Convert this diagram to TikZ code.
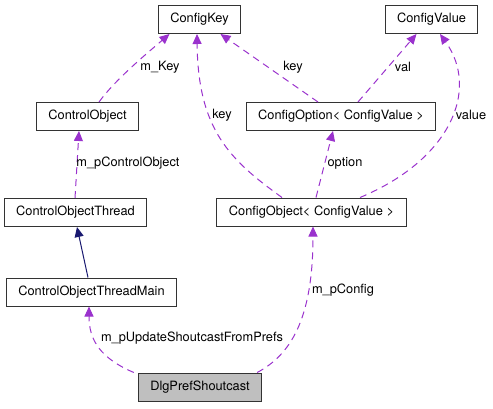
\documentclass[tikz,border=0pt]{standalone}
\usepackage{fontspec}
\setmainfont{TeX Gyre Heros}
\usetikzlibrary{arrows.meta}
\definecolor{edgepurple}{HTML}{9A32CD}
\definecolor{basenavy}{HTML}{191970}
\definecolor{dlgfill}{HTML}{BFBFBF}

\begin{document}
\begin{tikzpicture}[x=1pt,y=-1pt,
    cls/.style={draw=black!80,line width=1pt,fill=white,inner xsep=12pt,
                minimum height=28pt,font=\fontsize{12.8}{14}\selectfont},
    lbl/.style={inner sep=1pt,font=\fontsize{12.8}{14}\selectfont},
    member/.style={edgepurple,line width=1pt,dash pattern=on 7pt off 5pt,
                   -{Triangle[length=10pt,width=9pt]}},
    inherit/.style={basenavy,line width=1pt,-{Triangle[length=10pt,width=9pt]}}]
    \useasboundingbox (0,0) rectangle (493,408);

    \node[cls] (ckey)  at (199.5,19.5) {ConfigKey};
    \node[cls] (cval)  at (431.5,19.5) {ConfigValue};
    \node[cls] (cobj)  at (87.5,116.5) {ControlObject};
    \node[cls] (copt)  at (341,116.5)  {ConfigOption< ConfigValue >};
    \node[cls] (cthr)  at (75.5,212.5) {ControlObjectThread};
    \node[cls] (cfgo)  at (311.5,212)  {ConfigObject< ConfigValue >};
    \node[cls] (cmain) at (91.5,292)   {ControlObjectThreadMain};
    \node[cls,fill=dlgfill] (dlg) at (200,387) {DlgPrefShoutcast};

    % members
    \draw[member] ([xshift=11.5pt]cobj.north) .. controls (115,80) and (145,55) .. ([xshift=-30pt]ckey.south);
    \draw[member] ([xshift=-23pt]copt.north) -- ([xshift=21pt]ckey.south);
    \draw[member] ([xshift=17pt]copt.north) -- ([xshift=-15pt]cval.south);
    \draw[member] ([xshift=-29.5pt]cfgo.north) .. controls (230,160) and (198,130) .. ([xshift=-2.5pt]ckey.south);
    \draw[member] ([xshift=4.5pt]cfgo.north) -- ([xshift=-8pt]copt.south);
    \draw[member] ([xshift=48.5pt]cfgo.north) .. controls (450,160) and (480,90) .. ([xshift=8.5pt]cval.south);
    \draw[member] ([xshift=-0.5pt]cthr.north) -- ([xshift=-8.5pt]cobj.south);
    \draw[member] ([xshift=-4pt]dlg.north west) .. controls (100,358) and (89,340) .. ([xshift=-2.5pt]cmain.south);
    \draw[member] ([xshift=-5pt]dlg.north east) .. controls (290,355) and (313,320) .. ([xshift=1.5pt]cfgo.south);
    % base class
    \draw[inherit] ([xshift=-3.5pt]cmain.north) -- ([xshift=1.5pt]cthr.south);

    \node[lbl] (lkeya)  at (160,67)  {m\_Key};
    \node[lbl] (lkeyb)  at (293,67)  {key};
    \node[lbl] (lval)   at (403,67)  {val};
    \node[lbl] (lkeyc)  at (222,115) {key};
    \node[lbl] (lopt)   at (345,163) {option};
    \node[lbl] (lvalue) at (471,115) {value};
    \node[lbl] (lcobj)  at (128,163) {m\_pControlObject};
    \node[lbl] (lupd)   at (192,338) {m\_pUpdateShoutcastFromPrefs};
    \node[lbl] (lcfg)   at (343,290) {m\_pConfig};
\end{tikzpicture}
\end{document}
